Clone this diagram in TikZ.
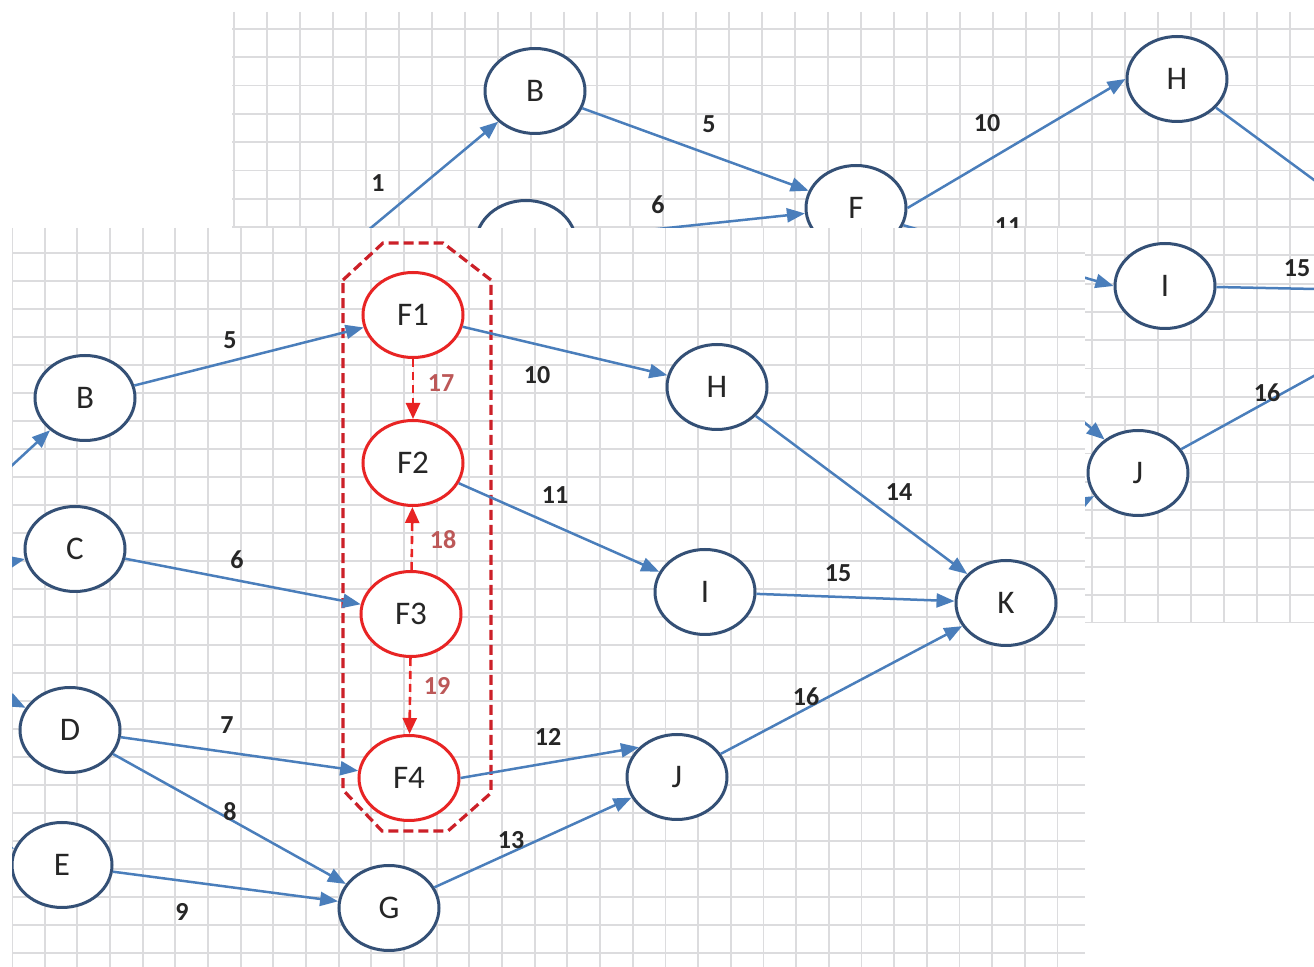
\documentclass[tikz,border=0pt]{standalone}
\usepackage{fontspec}
\setmainfont{Carlito}
\usetikzlibrary{shapes.geometric, arrows.meta}
\definecolor{nodeblue}{RGB}{52,80,118}
\definecolor{lineblue}{RGB}{74,126,187}
\definecolor{fred}{RGB}{232,36,36}
\definecolor{boxred}{RGB}{204,32,40}
\definecolor{numred}{RGB}{188,88,88}
\definecolor{gridgray}{RGB}{220,220,222}
\tikzstyle{state} = [ellipse, minimum width=50pt, minimum height=42.5pt, inner sep=0pt, line width=1.5pt, draw=nodeblue, fill=white, text=black!85, font=\fontsize{16.5}{18}\selectfont]
\tikzstyle{fstate} = [state, draw=fred]
\tikzstyle{arrow} = [line width=1.25pt, draw=lineblue, -{Triangle[length=9pt,width=7pt]}]
\tikzstyle{line} = [line width=1.25pt, draw=lineblue]
\tikzstyle{farrow} = [line width=1.3pt, draw=fred, dash pattern=on 4pt off 2.5pt, -{Triangle[length=8pt,width=7pt]}, fill=fred]
\tikzstyle{num} = [font=\bfseries\fontsize{13}{15}\selectfont, text=black!85]
\tikzstyle{fnum} = [num, text=numred]
\tikzstyle{gridline} = [line width=0.9pt, draw=gridgray]
\tikzstyle{groupbox} = [line width=1.6pt, draw=boxred, dash pattern=on 5pt off 2.5pt]
\begin{document}
\begin{tikzpicture}[x=0.5pt, y=-0.5pt]
  \useasboundingbox (0,0) rectangle (1314,967);
  \clip (0,0) rectangle (1314,967);
  \begin{scope}
    \clip (232,12) rectangle (1314,623);
    \foreach \i in {0,...,32} \draw [gridline] ({234+33*\i},12) -- ({234+33*\i},623);
    \foreach \j in {0,...,21} \draw [gridline] (232,{29+28.3*\j}) -- (1314,{29+28.3*\j});
    \node (rb) [state] at (535,91) {B};
    \node (rc) [state] at (526,243) {C};
    \node (rf) [state] at (856,208) {F};
    \node (rh) [state] at (1177,79) {H};
    \node (ri) [state] at (1165,286) {I};
    \node (rj) [state] at (1138,473) {J};
    \coordinate (ra) at (330,262);
    \coordinate (rg) at (1030,530);
    \coordinate (rk) at (1466,292);
    \draw [arrow] (ra) -- (rb);
    \draw [arrow] (rb) -- (rf);
    \draw [arrow] (rc) -- (rf);
    \draw [arrow] (rf.east) -- (rh.west);
    \draw [arrow] (rf.-20) -- (ri.west);
    \draw [arrow] (rf.-60) -- (rj.135);
    \draw [arrow] (rg) -- (rj);
    \draw [line] (rh) -- (rk);
    \draw [line] (ri) -- (rk);
    \draw [line] (rj) -- (rk);
    \node (rn1) [num] at (378,183) {1};
    \node (rn5) [num] at (709,124) {5};
    \node (rn6) [num] at (658,205) {6};
    \node (rn10) [num] at (987,123) {10};
    \node (rn11) [num] at (1008,226) {11};
    \node (rn15) [num] at (1297,268) {15};
    \node (rn16) [num] at (1267,393) {16};
  \end{scope}
  \fill [white] (12,228) rectangle (1085,967);
  \begin{scope}
    \clip (12,228) rectangle (1085,967);
    \foreach \i in {0,...,32} \draw [gridline] ({12+32.67*\i},228) -- ({12+32.67*\i},967);
    \foreach \j in {0,...,25} \draw [gridline] (12,{253+28*\j}) -- (1085,{253+28*\j});
    \draw [groupbox] (343,280) -- (383,243) -- (443,243) -- (491,280) -- (491,793) -- (448,831) -- (382,831) -- (343,790) -- cycle;
    \node (b) [state] at (85,398) {B};
    \node (c) [state] at (75,549) {C};
    \node (d) [state] at (70,730) {D};
    \node (e) [state] at (62,865) {E};
    \node (f1) [fstate] at (413,315) {F1};
    \node (f2) [fstate] at (413,463) {F2};
    \node (f3) [fstate] at (411,614) {F3};
    \node (f4) [fstate] at (409,778) {F4};
    \node (g) [state] at (389,908) {G};
    \node (h) [state] at (717,387) {H};
    \node (i) [state] at (705,592) {I};
    \node (j) [state] at (677,777) {J};
    \node (k) [state] at (1006,603) {K};
    \coordinate (inb) at (-20,495);
    \coordinate (inc) at (-30,570);
    \coordinate (ind) at (-30,680);
    \coordinate (ine) at (-40,830);
    \draw [arrow] (inb) -- (b);
    \draw [arrow] (inc) -- (c);
    \draw [arrow] (ind) -- (d);
    \draw [arrow] (ine) -- (e);
    \draw [arrow] (b) -- (f1);
    \draw [arrow] (c) -- (f3);
    \draw [arrow] (d) -- (f4);
    \draw [arrow] (d) -- (g);
    \draw [arrow] (e) -- (g);
    \draw [arrow] (f1) -- (h);
    \draw [arrow] (f2) -- (i);
    \draw [arrow] (f4.east) -- (j.142);
    \draw [arrow] (g) -- (j);
    \draw [arrow] (h) -- (k);
    \draw [arrow] (i) -- (k);
    \draw [arrow] (j) -- (k);
    \draw [farrow] (f1) -- (f2);
    \draw [farrow] (f3) -- (f2);
    \draw [farrow] (f3) -- (f4);
    \node (n5) [num] at (230,340) {5};
    \node (n6) [num] at (237,560) {6};
    \node (n7) [num] at (227,725) {7};
    \node (n8) [num] at (230,812) {8};
    \node (n9) [num] at (182,912) {9};
    \node (n10) [num] at (537,375) {10};
    \node (n11) [num] at (555,495) {11};
    \node (n12) [num] at (548,737) {12};
    \node (n13) [num] at (511,840) {13};
    \node (n14) [num] at (899,492) {14};
    \node (n15) [num] at (838,573) {15};
    \node (n16) [num] at (806,697) {16};
    \node (n17) [fnum] at (441,383) {17};
    \node (n18) [fnum] at (443,540) {18};
    \node (n19) [fnum] at (437,686) {19};
  \end{scope}
\end{tikzpicture}
\end{document}
